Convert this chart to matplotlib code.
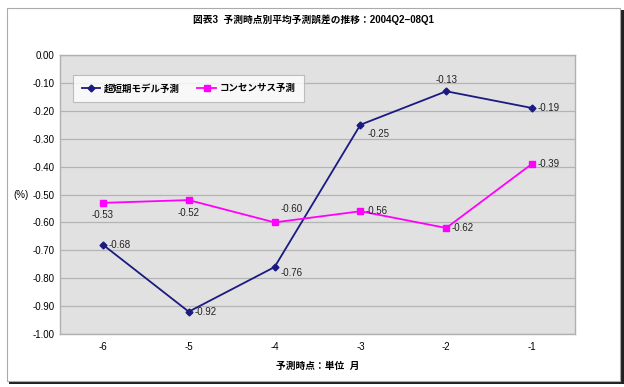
import matplotlib
matplotlib.use("Agg")
import matplotlib.pyplot as plt
from matplotlib.patches import Rectangle

plt.rcParams['font.family'] = ['Liberation Sans', 'Noto Sans CJK JP', 'DejaVu Sans']

categories = ['-6', '-5', '-4', '-3', '-2', '-1']
model = [-0.68, -0.92, -0.76, -0.25, -0.13, -0.19]
consensus = [-0.53, -0.52, -0.60, -0.56, -0.62, -0.39]
model_name = '超短期モデル予測'
cons_name = 'コンセンサス予測'
title = '図表3  予測時点別平均予測誤差の推移：2004Q2−08Q1'
xlabel = '予測時点：単位  月'
yticks = [0.0, -0.1, -0.2, -0.3, -0.4, -0.5, -0.6, -0.7, -0.8, -0.9, -1.0]

W, H = 624, 387
fig = plt.figure(figsize=(W/100, H/100), dpi=100)

# outer frame with shadow
fig.patches.append(Rectangle((9/W, 3/H), 615/W, 374/H, transform=fig.transFigure,
                             facecolor='#222222', edgecolor='none', zorder=-2))
fig.patches.append(Rectangle((7/W, 6/H), 613/W, 373/H, transform=fig.transFigure,
                             facecolor='white', edgecolor='#aaaaaa', lw=0.8, zorder=-1))

ax = fig.add_axes([60/W, 1 - 334/H, (575-60)/W, (334-55)/H])
ax.set_zorder(2)
ax.set_facecolor('#e1e1e1')
x = list(range(len(categories)))
ax.plot(x, model, color='#1a1a80', marker='D', markersize=3.5, lw=1.3, label=model_name, zorder=3)
ax.plot(x, consensus, color='#ff00ff', marker='s', markersize=5, lw=1.3, label=cons_name, zorder=3)
ax.set_xlim(-0.5, len(categories) - 0.5)
ax.set_ylim(-1.0, 0.0)
ax.set_yticks(yticks)
ax.set_yticklabels([f'{v:.2f}' for v in yticks], fontsize=7)
ax.set_xticks(x)
ax.set_xticklabels(categories, fontsize=7)
ax.tick_params(axis='both', length=0, pad=6)
ax.tick_params(axis='y', pad=4)
ax.grid(axis='y', color='#b4b4b4', lw=0.9)
ax.set_axisbelow(True)
for s in ax.spines.values():
    s.set_color('#b0b0b0')
    s.set_linewidth(1.0)

# data labels
model_off = [(4, 0), (4, 0), (4, -4), (5, -7), (0, 8), (4, 0)]
cons_off = [(0, -9), (0, -9), (4, 10), (4, 0), (4, 0), (4, 0)]
for i, v in enumerate(model):
    dx, dy = model_off[i]
    ha = 'center' if dx == 0 else 'left'
    ax.annotate(f'{v:.2f}', (i, v), xytext=(dx, dy), textcoords='offset points',
                fontsize=7, ha=ha, va='center', color='#222222')
for i, v in enumerate(consensus):
    dx, dy = cons_off[i]
    ha = 'center' if dx == 0 else 'left'
    ax.annotate(f'{v:.2f}', (i, v), xytext=(dx, dy), textcoords='offset points',
                fontsize=7, ha=ha, va='center', color='#222222')

leg = ax.legend(loc='upper left', bbox_to_anchor=((73-60)/(575-60), 1 - (75-55)/(334-55)),
                ncol=2, frameon=True, fancybox=False, borderaxespad=0,
                handlelength=2.0, handletextpad=0.4, columnspacing=1.8, borderpad=0.9,
                prop={'weight': 'bold', 'size': 6.8})
leg.get_frame().set_edgecolor('#b0b0b0')
leg.get_frame().set_facecolor('white')
leg.get_frame().set_linewidth(0.8)

fig.text(313/W, 1 - 20/H, title, ha='center', va='center', fontsize=7, fontweight='bold')
fig.text(318/W, 1 - 366/H, xlabel, ha='center', va='center', fontsize=7, fontweight='bold')
fig.text(21/W, 1 - 195/H, '(%)', ha='center', va='center', fontsize=7)

fig.savefig('out.png', dpi=100)
